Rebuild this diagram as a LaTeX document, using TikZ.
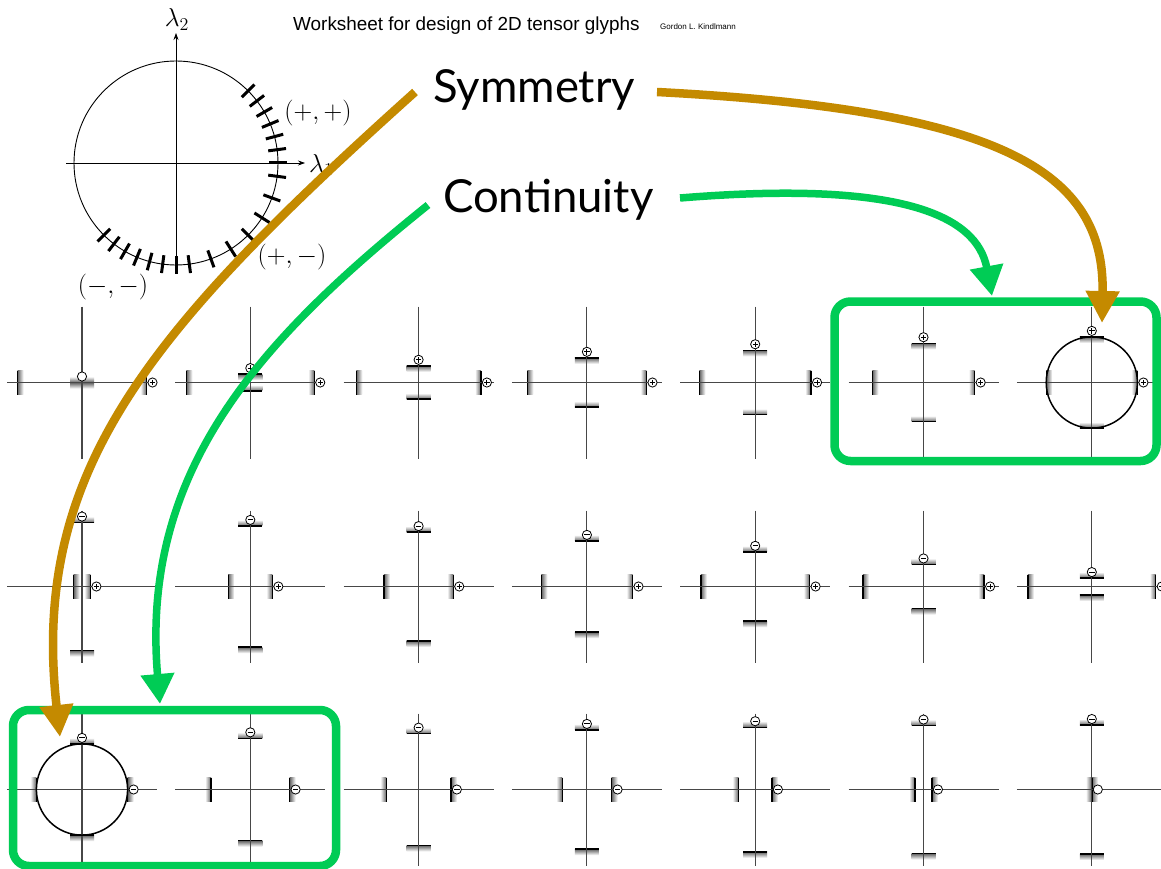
\documentclass[tikz,border=0pt]{standalone}
\usepackage{graphicx}
\usepackage{fontspec}
\newfontfamily\helv{Liberation Sans}
\newfontfamily\gill{Lato}
\usetikzlibrary{arrows.meta}
\definecolor{symbrown}{RGB}{196,138,0}
\definecolor{contgreen}{RGB}{0,204,85}
\colorlet{barshade}{black!62}

% vertical bar: sharp edge at x=#1, centred on y=#2, soft side towards #3 (+1 right, -1 left)
\newcommand{\glvbar}[3]{%
  \ifnum#3>0
    \shade[left color=barshade,right color=white] (#1,{#2-12}) rectangle ({#1+6},{#2+12});
  \else
    \shade[left color=white,right color=barshade] ({#1-6},{#2-12}) rectangle (#1,{#2+12});
  \fi
  \draw[barline] (#1,{#2-12}) -- (#1,{#2+12});}

% horizontal bar: sharp edge at y=#2, centred on x=#1, soft side towards #3 (+1 down, -1 up)
\newcommand{\glhbar}[3]{%
  \ifnum#3>0
    \shade[top color=barshade,bottom color=white] ({#1-12},#2) rectangle ({#1+12},{#2+6});
  \else
    \shade[top color=white,bottom color=barshade] ({#1-12},{#2-6}) rectangle ({#1+12},#2);
  \fi
  \draw[barline] ({#1-12},#2) -- ({#1+12},#2);}

% sign marker: #3 = 1 plus, -1 minus, 0 empty
\newcommand{\glmark}[3]{%
  \draw[markline] (#1,#2) circle (4.6);
  \ifnum#3>0
    \draw[signline] ({#1-2.7},#2) -- ({#1+2.7},#2) (#1,{#2-2.7}) -- (#1,{#2+2.7});
  \fi
  \ifnum#3<0
    \draw[signline] ({#1-2.7},#2) -- ({#1+2.7},#2);
  \fi}

% one tensor glyph: centre (#1,#2), eigenvalues #3 (lambda1) and #4 (lambda2) in px
\newcommand{\tglyph}[4]{%
  \pgfmathsetmacro\gla{abs(#3)}%
  \pgfmathsetmacro\glb{abs(#4)}%
  \pgfmathtruncatemacro\gls{(#3>0.5)-(#3<-0.5)}%
  \pgfmathtruncatemacro\glt{(#4>0.5)-(#4<-0.5)}%
  % isotropic case (equal eigenvalues): a ring
  \pgfmathtruncatemacro\glr{abs((#3)-(#4))<0.5}%
  \ifnum\gls>0
    \glvbar{#1+\gla}{#2}{-1}\glvbar{#1-\gla}{#2}{1}%
  \else\ifnum\gls<0
    \glvbar{#1+\gla}{#2}{1}\glvbar{#1-\gla}{#2}{-1}%
  \else
    \glvbar{#1}{#2}{1}\glvbar{#1}{#2}{-1}%
  \fi\fi
  \ifnum\glt>0
    \glhbar{#1}{#2-\glb}{1}\glhbar{#1}{#2+\glb}{-1}%
  \else\ifnum\glt<0
    \glhbar{#1}{#2-\glb}{-1}\glhbar{#1}{#2+\glb}{1}%
  \else
    \glhbar{#1}{#2}{1}\glhbar{#1}{#2}{-1}%
  \fi\fi
  \draw[axisline] ({#1-75},#2) -- ({#1+75},#2);
  \draw[axisline] (#1,{#2-76}) -- (#1,{#2+76});
  \ifnum\glr=1 \draw[ring] (#1,#2) circle (\gla); \fi
  \glmark{#1+\gla+6}{#2}{\gls}%
  \glmark{#1}{#2-\glb-6}{\glt}%
}

\newcommand{\biglbl}[1]{\scalebox{1.25}{$#1$}}

\begin{document}
\begin{tikzpicture}[x=1pt,y=-1pt,
  axisline/.style={draw=black!72,line width=1.1pt},
  barline/.style={draw=black,line width=1.4pt},
  ring/.style={draw=black,line width=1.5pt},
  markline/.style={draw=black,line width=0.8pt,fill=white},
  signline/.style={draw=black,line width=1pt},
  circtick/.style={draw=black,line width=3pt},
  thinaxis/.style={draw=black,line width=0.7pt,-{Stealth[length=7pt,width=5pt]}},
  symarrow/.style={draw=symbrown,line width=8.5pt,-{Triangle[length=32pt,width=32pt]}},
  contarrow/.style={draw=contgreen,line width=7.5pt,-{Triangle[length=30pt,width=32pt]}},
  gbox/.style={draw=contgreen,line width=8.5pt,rounded corners=16pt,inner sep=0pt},
  lbl/.style={inner sep=0pt,font=\huge}
]
\useasboundingbox[fill=white] (0,0) rectangle (1161,869);

% ---- header ----
\node[anchor=base west,inner sep=0pt,font=\helv\fontsize{18.9}{22}\selectfont] (title) at (293,31) {Worksheet for design of 2D tensor glyphs};
\node[anchor=base west,inner sep=0pt,font=\helv\fontsize{8}{10}\selectfont] (author) at (660,30) {Gordon L. Kindlmann};

% ---- eigenvalue circle ----
\draw[black,line width=0.9pt] (176,163) circle (102);
\draw[thinaxis] (66,163) -- (305,163);
\draw[thinaxis] (176,273) -- (176,33);
\foreach \p in {45,37.5,30,22.5,15,7.5,0,-7.5,-20,-32.5,-45,-57.5,-70,-82.5,-90,-97.5,-105,-112.5,-120,-127.5,-135}
  \draw[circtick] ({176+93*cos(\p)},{163-93*sin(\p)}) -- ({176+111*cos(\p)},{163-111*sin(\p)});
\node[lbl,anchor=south] (l2) at (177,31) {\biglbl{\lambda_2}};
\node[lbl,anchor=west] (l1) at (309,165) {\biglbl{\lambda_1}};
\node[lbl] (pp) at (318,113) {\biglbl{(+,+)}};
\node[lbl] (pm) at (292,257) {\biglbl{(+,-)}};
\node[lbl] (mm) at (113,287) {\biglbl{(-,-)}};

% ---- glyph grid ----
\foreach \i in {0,...,6} {
  \pgfmathsetmacro\cx{82+168.3*\i}
  \pgfmathsetmacro\thA{7.5*\i}
  \pgfmathsetmacro\thB{-82.5+12.5*\i}
  \pgfmathsetmacro\thC{-135+7.5*\i}
  \pgfmathsetmacro\aA{64.5*cos(\thA)}\pgfmathsetmacro\bA{64.5*sin(\thA)}
  \pgfmathsetmacro\aB{64.5*cos(\thB)}\pgfmathsetmacro\bB{64.5*sin(\thB)}
  \pgfmathsetmacro\aC{64.5*cos(\thC)}\pgfmathsetmacro\bC{64.5*sin(\thC)}
  \tglyph{\cx}{382.5}{\aA}{\bA}
  \tglyph{\cx}{586.5}{\aB}{\bB}
  \tglyph{\cx}{789.5}{\aC}{\bC}
}

% ---- groups ----
\node[gbox,minimum width=322pt,minimum height=159.5pt] (boxTop) at (995.5,381.25) {};
\node[gbox,minimum width=323pt,minimum height=156pt] (boxBot) at (174.5,788) {};

% ---- property labels ----
\node[anchor=base west,inner sep=0pt,font=\gill\fontsize{45.5}{50}\selectfont] (sym) at (433,103) {Symmetry};
\node[anchor=base west,inner sep=0pt,font=\gill\fontsize{45.5}{50}\selectfont] (cont) at (443,212) {Continuity};

\coordinate (symL) at (415,92);
\coordinate (symR) at (657,92);
\coordinate (contL) at (428,205);
\coordinate (contR) at (680,198);
\coordinate (symTipBot) at (60,737);
\coordinate (symTipTop) at (1102,323);
\coordinate (contTipBot) at (160,704);
\coordinate (contTipTop) at (992,296);

\draw[contarrow] (contL) .. controls (260,340) and (140,470) .. (contTipBot);
\draw[contarrow] (contR) .. controls (900,180) and (977,215) .. (contTipTop);
\draw[symarrow] (symL) .. controls (150,330) and (30,470) .. (symTipBot);
\draw[symarrow] (symR) .. controls (1000,110) and (1105,170) .. (symTipTop);
\end{tikzpicture}
\end{document}
